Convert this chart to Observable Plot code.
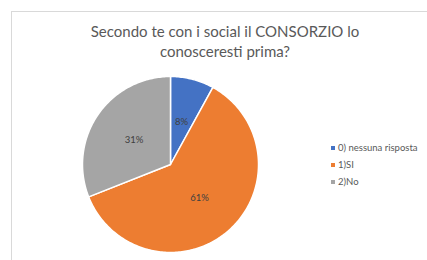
<!DOCTYPE html>
<html>
<head>
<meta charset="utf-8">
<script src="https://cdn.jsdelivr.net/npm/d3@7"></script>
<script src="https://cdn.jsdelivr.net/npm/@observablehq/plot@0.6"></script>
<style>
  body { margin: 0; background: #fff; }
  #wrap { position: relative; width: 427px; height: 260px; overflow: hidden; font-family: Lato, "Open Sans", sans-serif; }
  #frame { position: absolute; left: 11px; top: 11px; width: 430px; height: 260px; border: 1px solid #d9d9d9; box-sizing: border-box; }
  #title { position: absolute; left: 0; top: 21px; width: 450px; text-align: center; font-size: 15px; line-height: 20px; color: #595959; }
  #legend { position: absolute; left: 331px; top: 139px; font-size: 9.5px; color: #595959; }
  .li { display: flex; align-items: center; height: 17px; }
  .sw { width: 4px; height: 4px; margin-right: 3px; }
  svg { position: absolute; left: 0; top: 0; }
</style>
</head>
<body>
<div id="wrap">
  <div id="frame"></div>
  <div id="title">Secondo te con i social il CONSORZIO lo<br>conosceresti prima?</div>
  <div id="legend"></div>
</div>
<script>
const categories = ["0) nessuna risposta", "1)SI", "2)No"];
const values = [8, 61, 31];
const labels = ["8%", "61%", "31%"];
const colors = ["#4472C4", "#ED7D31", "#A5A5A5"];

const total = d3.sum(values);
const slices = [];
const labelRows = [];
let acc = 0;
values.forEach((v, i) => {
  const a0 = acc / total * 2 * Math.PI;
  acc += v;
  const a1 = acc / total * 2 * Math.PI;
  const n = Math.max(2, Math.ceil((a1 - a0) / (Math.PI / 180)));
  slices.push({cat: categories[i], x: 0, y: 0});
  for (let k = 0; k <= n; k++) {
    const a = a0 + (a1 - a0) * k / n;
    slices.push({cat: categories[i], x: Math.sin(a), y: -Math.cos(a)});
  }
  slices.push({cat: categories[i], x: 0, y: 0});
  const am = (a0 + a1) / 2;
  labelRows.push({cat: categories[i], label: labels[i], x: 0.5 * Math.sin(am), y: -0.5 * Math.cos(am)});
});

const chart = Plot.plot({
  width: 427,
  height: 260,
  margin: 0,
  x: {domain: [-1, 1], range: [82, 258], axis: null},
  y: {domain: [-1, 1], range: [76, 252], axis: null},
  color: {domain: categories, range: colors},
  marks: [
    Plot.line(slices, {x: "x", y: "y", z: "cat", fill: "cat", stroke: "white", strokeWidth: 1.5, curve: "linear-closed", strokeLinejoin: "round"}),
    Plot.text(labelRows, {x: "x", y: "y", text: "label", fill: "#404040", fontSize: 9.5, fontFamily: "Lato, sans-serif"})
  ]
});
document.getElementById("wrap").appendChild(chart);

const leg = document.getElementById("legend");
categories.forEach((c, i) => {
  const row = document.createElement("div");
  row.className = "li";
  const sw = document.createElement("span");
  sw.className = "sw";
  sw.style.background = colors[i];
  const t = document.createElement("span");
  t.textContent = c;
  row.appendChild(sw);
  row.appendChild(t);
  leg.appendChild(row);
});
</script>
</body>
</html>
